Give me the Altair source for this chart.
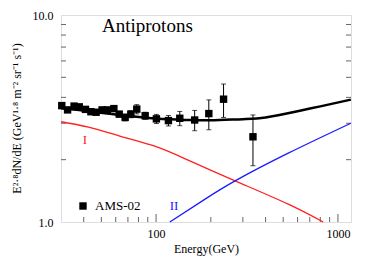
import altair as alt
import pandas as pd

# AMS-02 antiproton data (E in GeV, E^2.8 flux, error)
energy = [30.3, 32.6, 35.4, 37.8, 40.9, 43.8, 46.8, 50.5, 53.9, 58.6, 62.7, 67.6,
          72.6, 78.3, 87.1, 100.4, 116.9, 135, 163, 195, 235, 341]
flux = [3.65, 3.48, 3.63, 3.60, 3.50, 3.41, 3.39, 3.48, 3.48, 3.53, 3.32, 3.20,
        3.32, 3.51, 3.26, 3.15, 3.09, 3.17, 3.11, 3.34, 3.92, 2.58]
err = [0.08, 0.08, 0.08, 0.08, 0.08, 0.08, 0.08, 0.08, 0.08, 0.09, 0.10, 0.12,
       0.13, 0.18, 0.13, 0.16, 0.18, 0.25, 0.35, 0.55, 0.72, 0.71]

# Model curves
total_E = [30, 40, 60, 100, 150, 200, 300, 400, 600, 800, 1178]
total_v = [3.54, 3.45, 3.31, 3.16, 3.11, 3.10, 3.14, 3.20, 3.43, 3.62, 3.90]
comp1_E = [30, 42.5, 65, 100, 150, 272, 533, 830]
comp1_v = [3.05, 2.87, 2.58, 2.31, 1.99, 1.58, 1.22, 1.0]
comp2_E = [119, 186, 272, 533, 1178]
comp2_v = [1.0, 1.29, 1.58, 2.15, 3.0]

x_minor = [40, 50, 60, 70, 80, 90, 200, 300, 400, 500, 600, 700, 800, 900]
x_major = [100, 1000]
y_minor = [2, 3, 4, 5, 6, 7, 8, 9]

FONT = "Liberation Serif"
W, H = 290, 207

xs = alt.Scale(type="log", domain=[30, 1180], nice=False)
ys = alt.Scale(type="log", domain=[1, 10], nice=False)

pts = pd.DataFrame({"E": energy, "v": flux,
                    "lo": [f - e for f, e in zip(flux, err)],
                    "hi": [f + e for f, e in zip(flux, err)]})

y_title = "E²·⁸dN/dE (GeV¹·⁸ m⁻² sr⁻¹ s⁻¹)"

points = alt.Chart(pts).mark_square(size=55, color="black", opacity=1).encode(
    x=alt.X("E:Q", scale=xs, axis=alt.Axis(
        values=x_major, format="d", title="Energy(GeV)", ticks=False, domain=False,
        grid=False, labelFont=FONT, labelFontSize=12, labelColor="black",
        titleFont=FONT, titleFontSize=12, titleFontWeight="normal", titleColor="black",
        labelPadding=6, titlePadding=4)),
    y=alt.Y("v:Q", scale=ys, axis=alt.Axis(
        values=[1, 10], format=".1f", title=y_title, ticks=False, domain=False,
        grid=False, labelFont=FONT, labelFontSize=12, labelColor="black",
        titleFont=FONT, titleFontSize=12, titleFontWeight="normal", titleColor="black",
        labelPadding=8, titleX=-45, titleY=103, titleAngle=270,
        titleAlign="center", titleBaseline="middle")),
)

bars = alt.Chart(pts).mark_rule(color="black", strokeWidth=1).encode(
    x=alt.X("E:Q", scale=xs),
    y=alt.Y("lo:Q", scale=ys), y2="hi:Q")
cap_lo = alt.Chart(pts).mark_tick(color="black", thickness=1, size=5, orient="horizontal").encode(
    x=alt.X("E:Q", scale=xs), y=alt.Y("lo:Q", scale=ys))
cap_hi = alt.Chart(pts).mark_tick(color="black", thickness=1, size=5, orient="horizontal").encode(
    x=alt.X("E:Q", scale=xs), y=alt.Y("hi:Q", scale=ys))


def curve(E, v, color, width):
    df = pd.DataFrame({"E": E, "v": v})
    return alt.Chart(df).mark_line(color=color, strokeWidth=width, interpolate="natural").encode(
        x=alt.X("E:Q", scale=xs), y=alt.Y("v:Q", scale=ys))


total = curve(total_E, total_v, "black", 2.5)
c1 = curve(comp1_E, comp1_v, "#ff2020", 1.3)
c2 = curve(comp2_E, comp2_v, "#1a1aff", 1.3)

ydf = pd.DataFrame({"v": y_minor})
yt_left = alt.Chart(ydf).mark_rule(color="#666", strokeWidth=1).encode(
    y=alt.Y("v:Q", scale=ys), x=alt.value(0), x2=alt.value(5))
yt_right = alt.Chart(ydf).mark_rule(color="#666", strokeWidth=1).encode(
    y=alt.Y("v:Q", scale=ys), x=alt.value(W), x2=alt.value(W - 5))
xdf = pd.DataFrame({"E": x_minor})
xt = alt.Chart(xdf).mark_rule(color="#666", strokeWidth=1).encode(
    x=alt.X("E:Q", scale=xs), y=alt.value(H), y2=alt.value(H - 5))
xdf2 = pd.DataFrame({"E": x_major})
xt2 = alt.Chart(xdf2).mark_rule(color="#666", strokeWidth=1).encode(
    x=alt.X("E:Q", scale=xs), y=alt.value(H), y2=alt.value(H - 8))

title = alt.Chart(pd.DataFrame({"t": ["Antiprotons"]})).mark_text(
    font=FONT, fontSize=19, align="left", baseline="alphabetic", color="black").encode(
    text="t:N", x=alt.value(41), y=alt.value(17))
lab1 = alt.Chart(pd.DataFrame({"t": ["I"]})).mark_text(
    font=FONT, fontSize=13, align="center", baseline="middle", color="#ff2020").encode(
    text="t:N", x=alt.value(24), y=alt.value(125))
lab2 = alt.Chart(pd.DataFrame({"t": ["II"]})).mark_text(
    font=FONT, fontSize=13, align="center", baseline="middle", color="#1a1aff").encode(
    text="t:N", x=alt.value(113), y=alt.value(191))
leg_sq = alt.Chart(pd.DataFrame({"t": ["AMS-02"]})).mark_square(
    size=55, color="black", opacity=1).encode(x=alt.value(22), y=alt.value(191))
leg_tx = alt.Chart(pd.DataFrame({"t": ["AMS-02"]})).mark_text(
    font=FONT, fontSize=13, align="left", baseline="middle", color="black").encode(
    text="t:N", x=alt.value(34), y=alt.value(191))

chart = alt.layer(
    points, yt_left, yt_right, xt, xt2, c1, c2, total, bars, cap_lo, cap_hi,
    title, lab1, lab2, leg_sq, leg_tx
).properties(
    width=W, height=H,
    autosize=alt.AutoSizeParams(type="none"),
    padding={"left": 53, "top": 7, "right": 15, "bottom": 39},
).configure_view(stroke="#555", strokeWidth=1).configure(background="white")

chart.save("out.html", embed_options={"renderer": "svg", "actions": False})
